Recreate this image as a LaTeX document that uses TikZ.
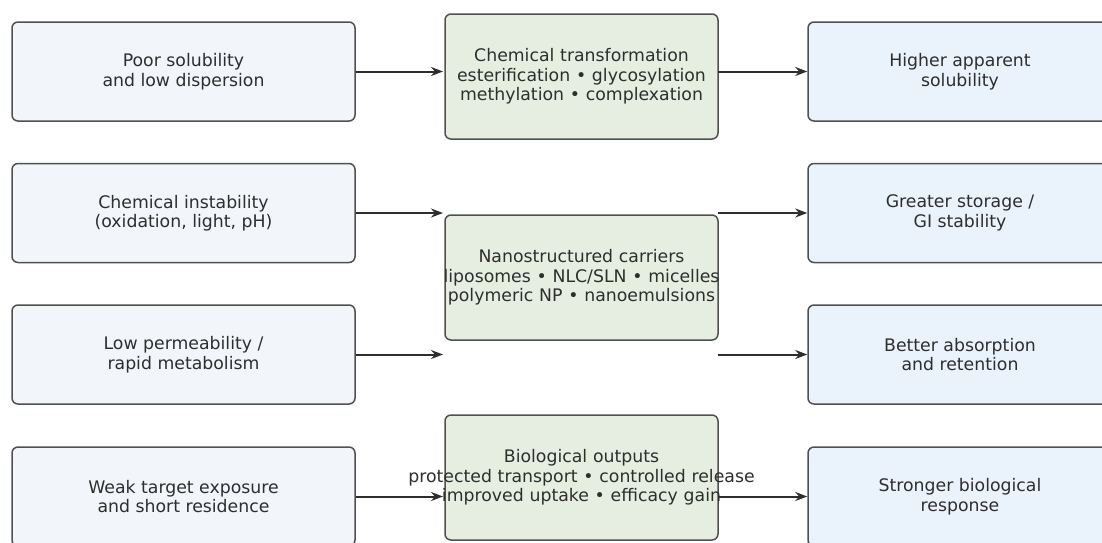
\documentclass[tikz,border=0pt]{standalone}
\usepackage{fontspec}
\setmainfont{DejaVu Sans}
\usetikzlibrary{arrows.meta}

\definecolor{boxline}{HTML}{505050}
\definecolor{textgrey}{HTML}{2E2E2E}
\definecolor{leftfill}{HTML}{F2F5F9}
\definecolor{midfill}{HTML}{E6EEE1}
\definecolor{rightfill}{HTML}{EAF2FC}

\newcommand{\wide}[1]{\makebox[0pt]{#1}}

\begin{document}
\begin{tikzpicture}[x=1pt, y=-1pt,
    box/.style={draw=boxline, line width=1.5pt, rounded corners=6pt, align=center,
        inner sep=0pt, text=textgrey, font=\fontsize{17.3}{19.5}\selectfont},
    leftbox/.style={box, fill=leftfill, minimum width=343pt, minimum height=99pt},
    midbox/.style={box, fill=midfill, text width=273pt, minimum height=125pt},
    rightbox/.style={box, fill=rightfill, minimum width=304pt, minimum height=99pt},
    arr/.style={-{Stealth[length=12pt,width=9pt]}, line width=2pt, draw=textgrey}]

        \useasboundingbox[fill=white] (0,0) rectangle (1102,542);

        \node[leftbox] (poor)   at (183.5,71.5)  {Poor solubility\\and low dispersion};
        \node[leftbox] (instab) at (183.5,213)   {Chemical instability\\(oxidation, light, pH)};
        \node[leftbox] (perm)   at (183.5,354.5) {Low permeability /\\rapid metabolism};
        \node[leftbox] (weak)   at (183.5,496.5) {Weak target exposure\\and short residence};

        \node[midbox] (chem) at (581.5,76.5)  {Chemical transformation\\\wide{esterification • glycosylation}\\\wide{methylation • complexation}};
        \node[midbox] (nano) at (581.5,277.5) {Nanostructured carriers\\\wide{liposomes • NLC/SLN • micelles}\\\wide{polymeric NP • nanoemulsions}};
        \node[midbox] (bio)  at (581.5,477.5) {Biological outputs\\\wide{protected transport • controlled release}\\\wide{improved uptake • efficacy gain}};

        \node[rightbox] (sol)    at (960,71.5)  {Higher apparent\\solubility};
        \node[rightbox] (stab)   at (960,213)   {Greater storage /\\GI stability};
        \node[rightbox] (absorb) at (960,354.5) {Better absorption\\and retention};
        \node[rightbox] (resp)   at (960,496.5) {Stronger biological\\response};

        \coordinate (in1) at (443,71.5);
        \coordinate (in2) at (443,213);
        \coordinate (in3) at (443,354.5);
        \coordinate (in4) at (443,496.5);
        \coordinate (out1) at (718,71.5);
        \coordinate (out2) at (718,213);
        \coordinate (out3) at (718,354.5);
        \coordinate (out4) at (718,496.5);

        \draw[arr] (poor.east) -- (in1);
        \draw[arr] (instab.east) -- (in2);
        \draw[arr] (perm.east) -- (in3);
        \draw[arr] (weak.east) -- (in4);

        \draw[arr] (out1) -- (sol.west);
        \draw[arr] (out2) -- (stab.west);
        \draw[arr] (out3) -- (absorb.west);
        \draw[arr] (out4) -- (resp.west);
    \end{tikzpicture}
\end{document}
